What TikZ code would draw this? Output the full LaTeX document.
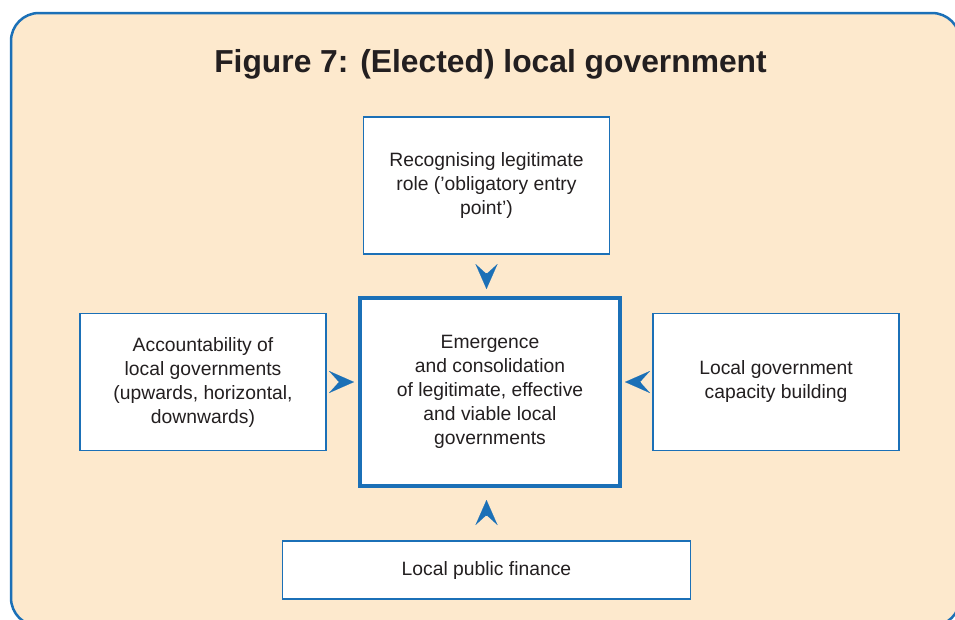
\documentclass[tikz,border=0pt]{standalone}
\usepackage{fontspec}
\setmainfont{Liberation Sans}
\usetikzlibrary{positioning,arrows.meta}
\definecolor{frameblue}{HTML}{1B70B7}
\definecolor{peach}{HTML}{FDE9CD}
\definecolor{ink}{HTML}{231F20}
\tikzset{box/.style={draw=frameblue,fill=white,line width=1.5pt,align=center,text=ink,
    font=\fontsize{19.3}{24}\selectfont,inner sep=0pt,outer sep=0pt,
    minimum width=246pt,minimum height=137pt}}

\begin{document}
\begin{tikzpicture}[x=1pt,y=-1pt,
    arr/.style={frameblue,line width=0.1pt,-{Stealth[length=25pt,width=22pt,inset=10pt]}}]
    \clip (0,0) rectangle (955,619);
    \draw[frameblue,line width=2.5pt,fill=peach,rounded corners=28pt] (11,13) rectangle (960,626);
    \node[font=\fontsize{31.8}{36}\selectfont\bfseries,text=ink,anchor=base] (title) at (490.5,72)
        {Figure 7: (Elected) local government};
    \node[box,line width=4pt,minimum width=260pt,minimum height=188pt] (core) at (490,392)
        {Emergence\\and consolidation\\of legitimate, effective\\and viable local\\governments};
    \node[box,above=44pt of core,xshift=-3.5pt] (role)
        {Recognising legitimate\\role (’obligatory entry\\point’)};
    \node[box,left=34pt of core,yshift=10pt] (account)
        {Accountability of\\local governments\\(upwards, horizontal,\\downwards)};
    \node[box,right=33pt of core,yshift=10pt] (capacity)
        {Local government\\capacity building};
    \node[box,below=55pt of core,xshift=-3.5pt,minimum width=408pt,minimum height=58pt] (finance)
        {Local public finance};
    \draw[arr,shorten <=19pt,shorten >=9pt] (role) -- (role |- core.north);
    \draw[arr,shorten <=13pt,shorten >=6pt] (account) -- (account -| core.west);
    \draw[arr,shorten <=12pt,shorten >=5pt] (capacity) -- (capacity -| core.east);
    \draw[arr,shorten <=26pt,shorten >=14pt] (finance) -- (finance |- core.south);
\end{tikzpicture}
\end{document}
